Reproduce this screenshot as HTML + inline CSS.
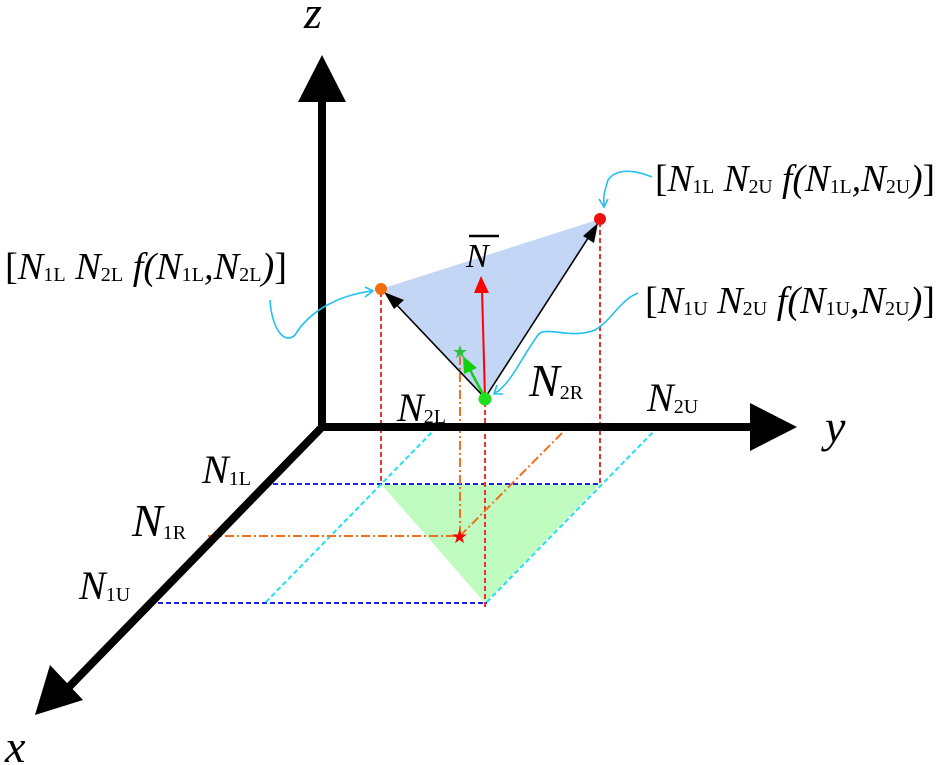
<!DOCTYPE html>
<html><head><meta charset="utf-8"><style>
html,body{margin:0;padding:0;background:#fff;}
svg{display:block;}
text{font-family:"Liberation Serif",serif;font-style:italic;fill:#000;}
.s{font-style:normal;font-size:20px;}
</style></head><body>
<svg width="941" height="765" viewBox="0 0 941 765" xmlns="http://www.w3.org/2000/svg">
<polygon points="381,484 600,484 485,603" fill="#c0fcc0"/>
<polygon points="381,289 600,219 485,398" fill="#c4d6f6"/>
<g stroke="#2020e0" stroke-width="2" stroke-dasharray="5,3">
<line x1="265" y1="484" x2="600" y2="484"/>
<line x1="150" y1="603" x2="487" y2="603"/>
</g>
<g stroke="#20e0f0" stroke-width="2" stroke-dasharray="5,3">
<line x1="437" y1="427" x2="265" y2="603"/>
<line x1="658" y1="427" x2="486" y2="603"/>
</g>
<g stroke="#f03030" stroke-width="2" stroke-dasharray="5,3">
<line x1="381" y1="292" x2="381" y2="484"/>
<line x1="600" y1="222" x2="600" y2="484"/>
<line x1="485" y1="402" x2="485" y2="607"/>
</g>
<g stroke="#f07020" stroke-width="2" stroke-dasharray="9,3,2,3" fill="none">
<line x1="208" y1="536" x2="460" y2="536"/>
<line x1="460" y1="536" x2="565" y2="430"/>
<line x1="460" y1="356" x2="460" y2="536"/>
</g>
<g stroke="#000" stroke-width="8">
<line x1="322" y1="100" x2="322" y2="431"/>
<line x1="318" y1="427" x2="752" y2="427"/>
<line x1="325" y1="424" x2="66" y2="690"/>
</g>
<polygon points="322,55 298,102 346,102" fill="#000"/>
<polygon points="797,427 750,403 750,451" fill="#000"/>
<polygon points="35,715 50,665 83,700" fill="#000"/>
<g stroke="#000" stroke-width="1.6">
<line x1="485" y1="398" x2="392" y2="300"/>
<line x1="485" y1="398" x2="592" y2="232"/>
</g>
<polygon points="384,292 404,300 394,309" fill="#000"/>
<polygon points="598,223 594,243 583,236" fill="#000"/>
<line x1="485" y1="398" x2="482" y2="290" stroke="#f00" stroke-width="2"/>
<polygon points="481,276 474,293 489,293" fill="#f00"/>
<line x1="485" y1="398" x2="468" y2="366" stroke="#10d010" stroke-width="2.5"/>
<polygon points="463,356 477,368 464,374" fill="#10d010"/>
<circle cx="381" cy="289" r="6" fill="#f07010"/>
<circle cx="600" cy="219" r="6" fill="#f01010"/>
<circle cx="485" cy="399" r="6.5" fill="#20e020"/>
<text x="452" y="358" style="font-style:normal;font-size:18px;fill:#30c040">★</text>
<text x="451" y="543" style="font-style:normal;font-size:19px;fill:#f00000">★</text>
<g stroke="#20c0f0" stroke-width="1.6" fill="none">
<path d="M270,300 C272,330 285,345 295,335 C310,310 340,295 372,291"/>
<path d="M365,287 L373,291 L365,297"/>
<path d="M652,177 C630,168 615,170 608,180 C605,190 603,195 604,205"/>
<path d="M599,199 L604,207 L608,199"/>
<path d="M638,293 C620,300 612,320 595,330 C570,340 545,325 538,335 C520,360 510,385 495,393"/>
<path d="M497,385 L494,394 L503,394"/>
</g>
<text x="304" y="28" font-size="46">z</text>
<text x="825" y="442" font-size="46">y</text>
<text x="5" y="762" font-size="46">x</text>
<line x1="469" y1="236" x2="499" y2="236" stroke="#000" stroke-width="2.5"/>
<text x="466" y="267" font-size="34">N</text>
<text x="397" y="421" font-size="40">N<tspan class="s" dy="2">2L</tspan></text>
<text x="529" y="396" font-size="46">N<tspan class="s" font-size="23" dy="3">2R</tspan></text>
<text x="647" y="411" font-size="40">N<tspan class="s" dy="2">2U</tspan></text>
<text x="202" y="483" font-size="40">N<tspan class="s" dy="2">1L</tspan></text>
<text x="132" y="536" font-size="46">N<tspan class="s" font-size="23" dy="3">1R</tspan></text>
<text x="79" y="599" font-size="40">N<tspan class="s" dy="2">1U</tspan></text>
<text x="5" y="279" font-size="38" textLength="282" lengthAdjust="spacingAndGlyphs"><tspan style="font-style:normal">[</tspan>N<tspan class="s" dy="2">1L</tspan><tspan dy="-2"> N</tspan><tspan class="s" dy="2">2L</tspan><tspan dy="-2"> f(N</tspan><tspan class="s" dy="2">1L</tspan><tspan dy="-2">,N</tspan><tspan class="s" dy="2">2L</tspan><tspan dy="-2">)</tspan><tspan style="font-style:normal">]</tspan></text>
<text x="655" y="191" font-size="38" textLength="280" lengthAdjust="spacingAndGlyphs"><tspan style="font-style:normal">[</tspan>N<tspan class="s" dy="2">1L</tspan><tspan dy="-2"> N</tspan><tspan class="s" dy="2">2U</tspan><tspan dy="-2"> f(N</tspan><tspan class="s" dy="2">1L</tspan><tspan dy="-2">,N</tspan><tspan class="s" dy="2">2U</tspan><tspan dy="-2">)</tspan><tspan style="font-style:normal">]</tspan></text>
<text x="645" y="313" font-size="38" textLength="290" lengthAdjust="spacingAndGlyphs"><tspan style="font-style:normal">[</tspan>N<tspan class="s" dy="2">1U</tspan><tspan dy="-2"> N</tspan><tspan class="s" dy="2">2U</tspan><tspan dy="-2"> f(N</tspan><tspan class="s" dy="2">1U</tspan><tspan dy="-2">,N</tspan><tspan class="s" dy="2">2U</tspan><tspan dy="-2">)</tspan><tspan style="font-style:normal">]</tspan></text>
</svg>
</body></html>
